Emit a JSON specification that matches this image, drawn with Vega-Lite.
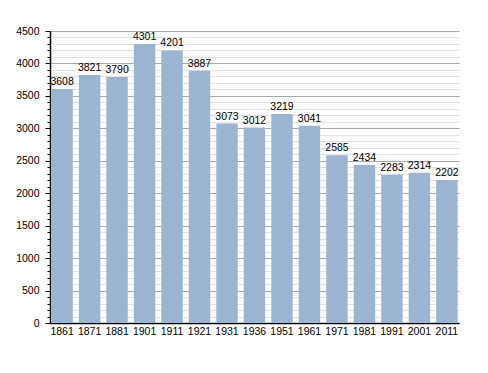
{
  "$schema": "https://vega.github.io/schema/vega-lite/v6.json",
  "width": 409,
  "height": 292,
  "autosize": {"type": "none"},
  "padding": {"left": 50, "top": 31, "right": 29, "bottom": 50},
  "background": "white",
  "config": {"view": {"stroke": null}, "font": "Liberation Sans"},
  "data": {"values": [
    {"year": "1861", "pop": 3608},
    {"year": "1871", "pop": 3821},
    {"year": "1881", "pop": 3790},
    {"year": "1901", "pop": 4301},
    {"year": "1911", "pop": 4201},
    {"year": "1921", "pop": 3887},
    {"year": "1931", "pop": 3073},
    {"year": "1936", "pop": 3012},
    {"year": "1951", "pop": 3219},
    {"year": "1961", "pop": 3041},
    {"year": "1971", "pop": 2585},
    {"year": "1981", "pop": 2434},
    {"year": "1991", "pop": 2283},
    {"year": "2001", "pop": 2314},
    {"year": "2011", "pop": 2202}
  ]},
  "encoding": {
    "x": {"field": "year", "type": "ordinal", "sort": null,
      "scale": {"paddingInner": 0.22, "paddingOuter": 0.05},
      "axis": {"title": null, "labelAngle": 0, "ticks": false, "domainColor": "#000", "domainWidth": 1.5, "labelColor": "#000", "labelFontSize": 10.5, "labelPadding": 3}},
    "y": {"field": "pop", "type": "quantitative",
      "scale": {"domain": [0, 4500], "nice": false},
      "axis": {"title": null,
        "values": [0,100,200,300,400,500,600,700,800,900,1000,1100,1200,1300,1400,1500,1600,1700,1800,1900,2000,2100,2200,2300,2400,2500,2600,2700,2800,2900,3000,3100,3200,3300,3400,3500,3600,3700,3800,3900,4000,4100,4200,4300,4400,4500],
        "labelExpr": "datum.value % 500 === 0 ? datum.label : ''",
        "format": "d",
        "gridColor": {"condition": {"test": "datum.value % 500 === 0", "value": "#a8a8a8"}, "value": "#e2e2e2"},
        "tickSize": {"condition": {"test": "datum.value % 500 === 0", "value": 5}, "value": 3},
        "tickColor": "#000",
        "domainColor": "#000",
        "domainWidth": 1.5,
        "labelColor": "#000",
        "labelFontSize": 10.5,
        "labelPadding": 6,
        "labelOverlap": false}}
  },
  "layer": [
    {"mark": {"type": "bar", "color": "#9bb4d2"}},
    {"mark": {"type": "text", "dy": -7, "fontSize": 10.5, "color": "#000"},
     "encoding": {"text": {"field": "pop", "type": "quantitative", "format": "d"}}}
  ]
}
